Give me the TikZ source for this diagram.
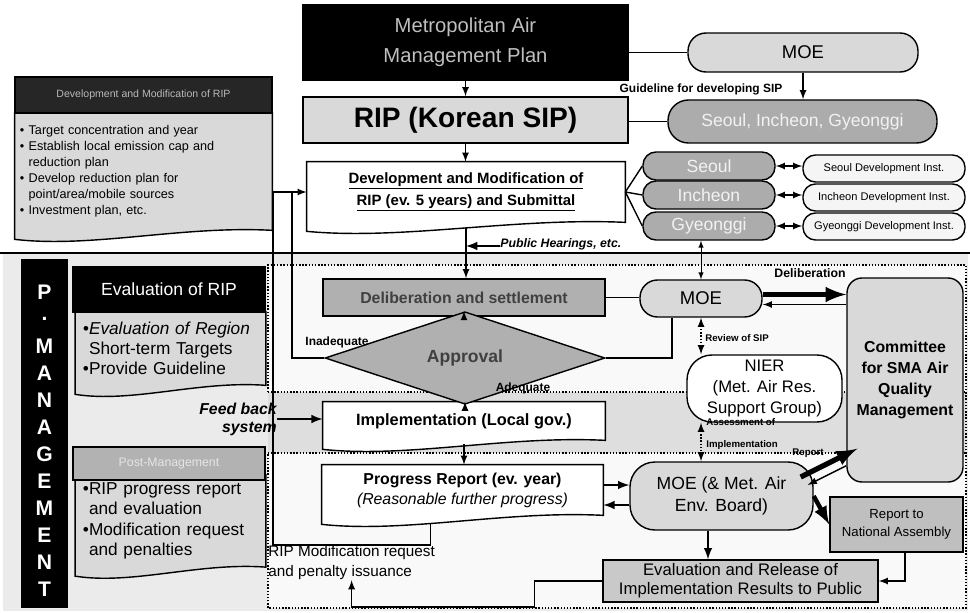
\documentclass[tikz,border=0pt]{standalone}
\usepackage{fontspec}
\setmainfont{Liberation Sans}
\usetikzlibrary{calc, arrows, shapes.geometric, backgrounds}

\newcommand{\fsz}[2]{\fontsize{#1}{#2}\selectfont}
\newcommand{\wavybox}[2]{%
  \begin{pgfonlayer}{background}
    \draw[thick, fill=#2] (#1.north west) -- (#1.north east) -- (#1.south east)
      .. controls ($(#1.south east)!0.35!(#1.south west)+(0,-5)$)
      and ($(#1.south east)!0.7!(#1.south west)+(0,18)$) .. ($(#1.south west)+(0,9)$) -- cycle;
  \end{pgfonlayer}}

\begin{document}
\begin{tikzpicture}[x=0.2mm, y=-0.2mm, >=latex,
    box/.style={draw, thick, inner sep=1pt, align=center},
    pill/.style={box, rounded corners=#1},
    note/.style={inner sep=0pt, align=center}]
    \useasboundingbox (0,0) rectangle (970,613);
    \begin{pgfonlayer}{background}
        \fill[gray!16] (3,253) rectangle (968,611);
        \fill[gray!5] (268,265) rectangle (966,608);
        \fill[gray!26] (268,392) rectangle (966,453);
        \draw[thick] (0,253) -- (970,253);
        \draw[thick, densely dotted] (268,392) -- (268,265) -- (966,265) -- (966,608) -- (268,608) -- (268,453);
        \draw[thick, densely dotted] (268,392) -- (966,392) (268,453) -- (966,453);
    \end{pgfonlayer}

    % plan level
    \node[box, fill=black, text=gray!50, minimum width=65mm, minimum height=15mm, font=\fsz{11.5}{17}] (metro) at (465.5,42.5) {Metropolitan Air\\Management Plan};
    \node[pill=3.6mm, fill=gray!30, minimum width=46mm, minimum height=7.8mm, font=\fsz{10.5}{12}] (moetop) at (803,52.5) {MOE};
    \node[box, fill=gray!30, minimum width=65mm, minimum height=9.2mm, font=\bfseries\fsz{16}{18}] (rip) at (465.5,120) {RIP (Korean SIP)};
    \node[pill=4.1mm, fill=gray!65, text=gray!10, minimum width=53.8mm, minimum height=8.6mm, font=\fsz{10}{12}] (sig) at (802.5,121.5) {Seoul, Incheon, Gyeonggi};
    \node[note, font=\bfseries\fsz{6.8}{8}] (guide) at (701,89) {Guideline for developing SIP};
    \node[note, minimum width=63.6mm, minimum height=12mm, font=\bfseries\fsz{8.5}{12.5}] (dev) at (466,192) {\underline{Development and Modification of}\\\underline{RIP (ev. 5 years) and Submittal}};
    \wavybox{dev}{white}
    \foreach \name/\txt/\y in {seoul/Seoul/166, incheon/Incheon/195, gyeonggi/Gyeonggi/226}
        \node[pill=2.6mm, fill=gray!65, text=gray!10, minimum width=26.4mm, minimum height=5.6mm, font=\fsz{10}{12}] (\name) at (709,\y) {\txt};
    \foreach \name/\txt/\y in {seouldi/Seoul/168.5, incheondi/Incheon/197.5, gyeonggidi/Gyeonggi/226.5}
        \node[pill=2.5mm, fill=gray!8, minimum width=32.4mm, minimum height=5.4mm, font=\fsz{6.3}{7}] (\name) at (884,\y) {\txt\ Development Inst.};

    \node[box, fill=black!85, text=gray!55, minimum width=51.4mm, minimum height=7.2mm, font=\fsz{6}{7}] (tophead) at (143.5,95) {Development and Modification of RIP};
    \node[inner sep=1mm, text width=49.4mm, minimum height=23.4mm, align=left, font=\fsz{7.2}{9.1}] (topbody) at (143.5,171.5)
        {• Target concentration and year\\• Establish local emission cap and\\\phantom{• }reduction plan\\• Develop reduction plan for\\\phantom{• }point/area/mobile sources\\• Investment plan, etc.};
    \wavybox{topbody}{gray!30}

    % management side
    \node[box, fill=black, minimum width=9mm, minimum height=69.4mm] (pm) at (44.5,433.5) {};
    \foreach \ch [count=\i] in {P,.,M,A,N,A,G,E,M,E,N,T}
        \node[text=white, font=\bfseries\fsz{12}{14}, inner sep=0pt] (pm\i) at (44.5,265+27*\i) {\ch};
    \node[box, fill=black, text=white, minimum width=38.4mm, minimum height=9mm, font=\fsz{10}{12}] (evalhead) at (169,289.5) {Evaluation of RIP};
    \node[inner sep=1.5mm, text width=35mm, minimum height=14.6mm, align=left, font=\fsz{9.8}{11.4}] (evalbody) at (170.5,348.5)
        {{\itshape •Evaluation of Region}\\\phantom{•}Short-term Targets\\•Provide Guideline};
    \wavybox{evalbody}{gray!30}
    \node[box, fill=gray!60, text=gray!20, minimum width=38.4mm, minimum height=6.6mm, font=\fsz{7}{8}] (posthead) at (169,463.5) {Post-Management};
    \node[inner sep=1.5mm, text width=35mm, minimum height=16.4mm, align=left, font=\fsz{9.8}{11.6}] (postbody) at (170.5,521)
        {•RIP progress report\\\phantom{•}and evaluation\\•Modification request\\\phantom{•}and penalties};
    \wavybox{postbody}{gray!30}
    \node[note, align=right, anchor=east, font=\bfseries\itshape\fsz{9}{10.2}] (feedback) at (277,419) {Feed back\\system};

    % approval flow
    \node[box, fill=gray!62, text=black!75, minimum width=56.4mm, minimum height=7.4mm, font=\bfseries\fsz{9}{11}] (delib) at (464,297.5) {Deliberation and settlement};
    \node[draw, thick, diamond, fill=gray!62, text=black!75, inner sep=0pt, minimum width=56mm, minimum height=10.8mm, font=\bfseries\fsz{10}{12}] (approval) at (465,358) {Approval};
    \node[note, minimum width=56.4mm, minimum height=7.6mm, font=\bfseries\fsz{9.3}{11}] (impl) at (464,421) {Implementation (Local gov.)};
    \wavybox{impl}{white}
    \node[note, minimum width=56.2mm, minimum height=10mm, font=\fsz{9}{11.4}] (prog) at (462.5,490) {\textbf{Progress Report (ev. year)}\\\textit{(Reasonable further progress)}};
    \wavybox{prog}{white}

    \node[pill=3.5mm, fill=gray!30, minimum width=24.4mm, minimum height=7.4mm, font=\fsz{10.5}{12}] (moemid) at (701,298.5) {MOE};
    \node[pill=3mm, fill=gray!30, minimum width=23.2mm, minimum height=40.8mm, font=\bfseries\fsz{9}{12}] (committee) at (905,380) {Committee\\for SMA Air\\Quality\\Management};
    \node[pill=5mm, fill=white, minimum width=31mm, minimum height=13.4mm, font=\fsz{9.5}{12}] (nier) at (764.5,388.5) {NIER\\(Met. Air Res.\\Support Group)};
    \node[pill=5mm, fill=gray!30, minimum width=36.6mm, minimum height=13.6mm, font=\fsz{10}{12.5}] (moeenv) at (721.5,496) {MOE (\& Met. Air\\Env. Board)};
    \node[box, fill=gray!50, minimum width=26.6mm, minimum height=11mm, font=\fsz{7.5}{10}] (natass) at (896.5,524.5) {Report to\\National Assembly};
    \node[box, fill=gray!42, minimum width=55mm, minimum height=8.4mm, font=\fsz{9.5}{11}] (evalrel) at (740.5,581) {Evaluation and Release of\\Implementation Results to Public};

    \node[note, anchor=west, font=\bfseries\itshape\fsz{7}{8}] (pubhear) at (500,246) {\underline{Public Hearings, etc.}};
    \node[note, font=\bfseries\fsz{6.8}{8}] (inadeq) at (337,342) {Inadequate};
    \node[note, font=\bfseries\fsz{6.8}{8}] (adeq) at (523,388) {Adequate};
    \node[note, font=\bfseries\fsz{7}{8}] (delibtag) at (810,273) {Deliberation};
    \node[note, anchor=west, font=\bfseries\fsz{5.5}{6}] (reviewtag) at (705,338) {Review of SIP};
    \node[note, anchor=west, align=left, font=\bfseries\fsz{5.5}{12.5}] (assesstag) at (706,434) {Assessment of\\Implementation};
    \node[note, font=\bfseries\fsz{5.5}{6}] (reporttag) at (808,453) {Report};
    \node[note, anchor=north west, align=left, font=\fsz{8.7}{11.5}] (ripmod) at (268,545) {RIP Modification request\\and penalty issuance};

    % connectors
    \draw[thick] (metro.east |- moetop.west) -- (moetop.west);
    \draw[thick] (rip.east |- sig.west) -- (sig.west);
    \draw[thick,->] (metro.south) -- (rip.north);
    \draw[thick,->] (moetop.south) -- (moetop.south |- sig.north);
    \draw[thick,->] (rip.south) -- (rip.south |- dev.north);
    \foreach \a in {seoul, incheon, gyeonggi}
        \draw[thick] (dev.east) -- (\a.west);
    \foreach \a/\b in {seoul/seouldi, incheon/incheondi, gyeonggi/gyeonggidi}
        \draw[thick,<->] (\a.east) -- (\a.east -| \b.west);
    \draw[<->] (moemid.north |- gyeonggi.south) -- (moemid.north);

    \coordinate (devfoot) at ([yshift=-1.2mm]dev.south);
    \draw[thick,->] (devfoot) -- (devfoot |- delib.north);
    \draw[very thick,->] (pubhear.west) -- (pubhear.west -| dev.south);
    \draw[thick,->] (delib.south) -- (delib.south |- approval.north);
    \draw[thick,->] (approval.south) -- (approval.south |- impl.north);
    \coordinate (implfoot) at ([yshift=-0.8mm]impl.south);
    \draw[thick,->] (implfoot) -- (implfoot |- prog.north);
    \draw[very thick,->] (feedback.east) -- (feedback.east -| impl.west);

    \coordinate (loopa) at (292,192);
    \coordinate (loopb) at (273,192);
    \draw[thick,->] (approval.west) -| (loopa) -- (dev.west);
    \coordinate (progfoot) at ([xshift=-6.4mm, yshift=-1.5mm]prog.south);
    \draw[thick] (progfoot) -- (progfoot |- ripmod.north) -| (loopb) -- (loopa);

    \draw[thick] (delib.east) -- (delib.east -| moemid.west);
    \coordinate (moefoot) at ([xshift=-5.8mm]moemid.south);
    \draw[thick] (approval.east) -| (moefoot);
    \coordinate (dla) at ([yshift=0.8mm]moemid.east);
    \coordinate (dlb) at ([yshift=-1.2mm]moemid.east);
    \draw[line width=3pt,-latex] (dla) -- (dla -| committee.west);
    \draw[thick,<-] (dlb) -- (dlb -| committee.west);

    \draw[thick, densely dotted, <->] (moemid.south) -- (moemid.south |- nier.north);
    \draw[thick, densely dotted, <->] (moemid.south |- nier.south) -- (moemid.south |- moeenv.north);

    \coordinate (pga) at ([yshift=1mm]prog.east);
    \coordinate (pgb) at ([yshift=-3mm]prog.east);
    \draw[very thick,->] (pga) -- (pga -| moeenv.west);
    \draw[very thick,<-] (pgb) -- (pgb -| moeenv.west);

    \coordinate (rpa) at ($(moeenv.east)+(-13,-19)$);
    \coordinate (rpb) at ($(committee.south west)+(11,-34)$);
    \coordinate (rpc) at ($(committee.south west)+(0,-17)$);
    \coordinate (rpd) at ($(moeenv.east)+(-6,-11)$);
    \draw[line width=3pt,-latex] (rpa) -- (rpb);
    \draw[thick,->] (rpc) -- (rpd);
    \draw[line width=2.5pt,-latex] (moeenv.east) -- (natass.west);

    \coordinate (nafoot) at ([xshift=1.7mm]natass.south);
    \draw[thick,->] (nafoot) |- (evalrel.east);
    \coordinate (envfoot) at ([xshift=-2.7mm]moeenv.south);
    \draw[very thick,->] (envfoot) -- (envfoot |- evalrel.north);
    \draw[thick,->] (evalrel.west) -- ++(-68,0) -- ++(0,26) -| (ripmod.south);
\end{tikzpicture}
\end{document}
